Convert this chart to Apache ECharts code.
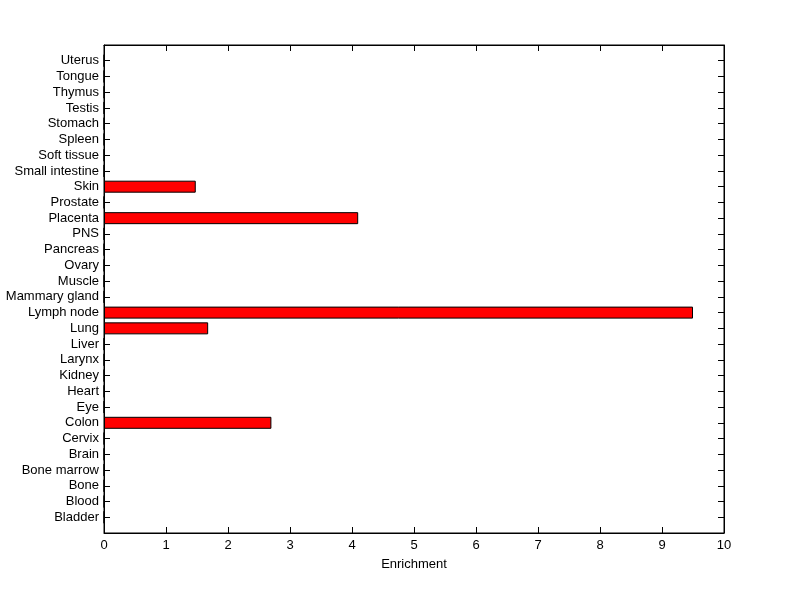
<!DOCTYPE html>
<html>
<head>
<meta charset="utf-8">
<script src="https://cdn.jsdelivr.net/npm/echarts@6/dist/echarts.min.js"></script>
<style>
  html, body { margin: 0; padding: 0; background: #fff; }
  #main { width: 800px; height: 599px; }
</style>
</head>
<body>
<div id="main"></div>
<script>
  // tissues from bottom to top
  var tissues = ['Bladder', 'Blood', 'Bone', 'Bone marrow', 'Brain', 'Cervix', 'Colon', 'Eye',
    'Heart', 'Kidney', 'Larynx', 'Liver', 'Lung', 'Lymph node', 'Mammary gland', 'Muscle',
    'Ovary', 'Pancreas', 'PNS', 'Placenta', 'Prostate', 'Skin', 'Small intestine',
    'Soft tissue', 'Spleen', 'Stomach', 'Testis', 'Thymus', 'Tongue', 'Uterus']
  var enrichment = [0, 0, 0, 0, 0, 0, 2.7, 0,
    0, 0, 0, 0, 1.68, 9.5, 0, 0,
    0, 0, 0, 4.1, 0, 1.48, 0,
    0, 0, 0, 0, 0, 0, 0]
  var xTicks = [0, 1, 2, 3, 4, 5, 6, 7, 8, 9, 10]

  // empty slot at each end so the axis has half a step of room like matlab
  var yCats = [''].concat(tissues, [''])
  var barData = ['-'].concat(enrichment, ['-'])

  var font = 'Arial, "Liberation Sans", sans-serif'
  var lineStyle = { color: '#000', width: 1 }

  // value axis used only to draw ticks / names at each tissue slot
  function tickAxis(pos, labels) {
    return {
      type: 'value',
      position: pos,
      min: 0,
      max: tissues.length + 1,
      interval: 1,
      axisLine: { show: true, onZero: false, lineStyle: lineStyle },
      axisTick: { show: true, inside: true, length: 6, lineStyle: lineStyle },
      axisLabel: {
        show: labels,
        color: '#000',
        fontSize: 13,
        fontFamily: font,
        margin: 5,
        formatter: function (v) { return tissues[v - 1] || '' }
      },
      splitLine: { show: false }
    }
  }

  var chart = echarts.init(document.getElementById('main'))
  chart.setOption({
    backgroundColor: '#fff',
    animation: false,
    grid: {
      left: 104,
      right: 76,
      top: 45,
      bottom: 66,
      show: true,
      borderColor: '#000',
      borderWidth: 1,
      backgroundColor: '#fff'
    },
    xAxis: [{
      type: 'value',
      position: 'bottom',
      min: xTicks[0],
      max: xTicks[xTicks.length - 1],
      interval: 1,
      name: 'Enrichment',
      nameLocation: 'middle',
      nameGap: 25,
      nameTextStyle: { color: '#000', fontSize: 13, fontFamily: font },
      axisLine: { show: true, onZero: false, lineStyle: lineStyle },
      axisTick: { show: true, inside: true, length: 6, lineStyle: lineStyle },
      axisLabel: { color: '#000', fontSize: 13, fontFamily: font, margin: 6 },
      splitLine: { show: false }
    }, {
      type: 'value',
      position: 'top',
      min: xTicks[0],
      max: xTicks[xTicks.length - 1],
      interval: 1,
      axisLine: { show: true, onZero: false, lineStyle: lineStyle },
      axisTick: { show: true, inside: true, length: 6, lineStyle: lineStyle },
      axisLabel: { show: false },
      splitLine: { show: false }
    }],
    yAxis: [{
      type: 'category',
      data: yCats,
      boundaryGap: false,
      show: false
    }, tickAxis('left', true), tickAxis('right', false)],
    series: [{
      type: 'bar',
      xAxisIndex: 0,
      yAxisIndex: 0,
      data: barData,
      barWidth: 12,
      itemStyle: { color: '#ff0000', borderColor: '#000', borderWidth: 1 }
    }]
  })
</script>
</body>
</html>
